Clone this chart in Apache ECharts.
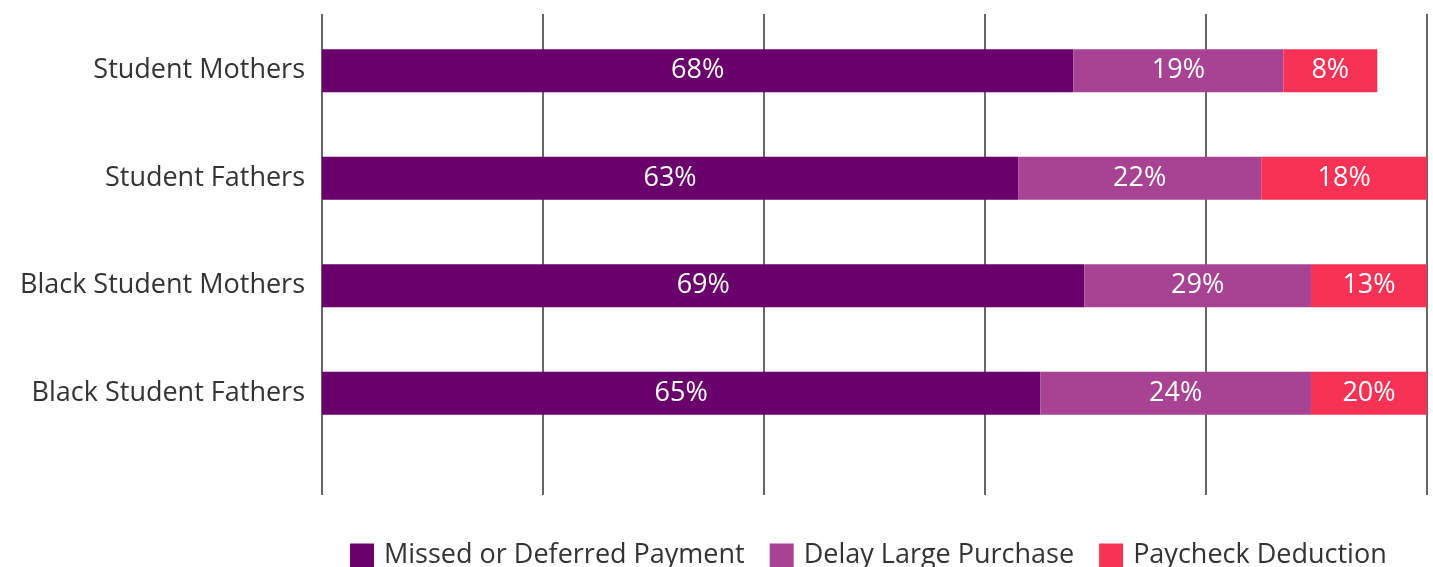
<!DOCTYPE html>
<html>
<head>
<meta charset="utf-8">
<script src="https://cdn.jsdelivr.net/npm/echarts@6/dist/echarts.min.js"></script>
<style>
  html, body { margin: 0; padding: 0; background: #fff; }
  #chart { width: 1433px; height: 567px; }
</style>
</head>
<body>
<div id="chart"></div>
<script>
const categories = ['Student Mothers', 'Student Fathers', 'Black Student Mothers', 'Black Student Fathers']
const seriesNames = ['Missed or Deferred Payment', 'Delay Large Purchase', 'Paycheck Deduction']

// visible segment lengths (% of axis)
const missed = [68, 63, 69, 65]
const delay = [19, 22, 20.5, 24.5]
const paycheck = [8.5, 15, 10.5, 10.5]

// printed labels
const missedLabels = ['68%', '63%', '69%', '65%']
const delayLabels = ['19%', '22%', '29%', '24%']
const paycheckLabels = ['8%', '18%', '13%', '20%']

const colors = ['#6a006b', '#a84394', '#f83255']
const FONT = 'Open Sans'

const chart = echarts.init(document.getElementById('chart'), null, { renderer: 'canvas' })

function barSeries(name, values, labels, color) {
  return {
    name: name,
    type: 'bar',
    stack: 'total',
    xAxisIndex: 1,
    yAxisIndex: 1,
    barWidth: 43,
    data: values,
    itemStyle: { color: color },
    label: {
      show: true,
      position: 'inside',
      color: '#fff',
      fontFamily: FONT,
      fontSize: 27,
      formatter: (p) => labels[p.dataIndex],
    },
    emphasis: { disabled: true },
  }
}

const option = {
  animation: false,
  color: colors,
  textStyle: { fontFamily: FONT },
  legend: {
    left: 350,
    top: 542,
    padding: 0,
    icon: 'rect',
    itemWidth: 24,
    itemHeight: 24,
    itemGap: 25,
    textStyle: { fontFamily: FONT, fontSize: 27, color: '#333', padding: [0, 0, 0, 5] },
    data: seriesNames,
  },
  grid: [
    { left: 322, right: 6, top: 14, bottom: 72 },
    { left: 322, right: 6, top: 17, height: 430 },
  ],
  xAxis: [
    {
      gridIndex: 0,
      type: 'value',
      min: 0,
      max: 100,
      interval: 20,
      axisLine: { show: false },
      axisTick: { show: false },
      axisLabel: { show: false },
      splitLine: { show: true, lineStyle: { color: '#333', width: 1.5 } },
    },
    {
      gridIndex: 1,
      type: 'value',
      min: 0,
      max: 100,
      show: false,
    },
  ],
  yAxis: [
    { gridIndex: 0, type: 'value', show: false },
    {
      gridIndex: 1,
      type: 'category',
      inverse: true,
      data: categories,
      axisLine: { show: false },
      axisTick: { show: false },
      axisLabel: {
        fontFamily: FONT,
        fontSize: 27,
        color: '#333',
        margin: 17,
        padding: [0, 0, 12, 0],
      },
    },
  ],
  series: [
    barSeries(seriesNames[0], missed, missedLabels, colors[0]),
    barSeries(seriesNames[1], delay, delayLabels, colors[1]),
    barSeries(seriesNames[2], paycheck, paycheckLabels, colors[2]),
  ],
}

chart.setOption(option)
</script>
</body>
</html>
